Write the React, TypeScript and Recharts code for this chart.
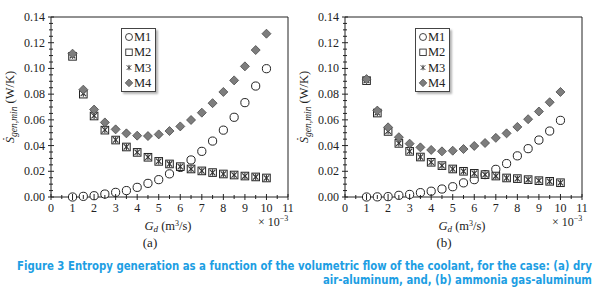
import React, { useLayoutEffect, useRef, useState } from 'react';
import { ScatterChart, Scatter, XAxis, YAxis, ReferenceLine } from 'recharts';

// volumetric flow of the coolant, x 10^-3 m3/s
const flowRates = [1, 1.5, 2, 2.5, 3, 3.5, 4, 4.5, 5, 5.5, 6, 6.5, 7, 7.5, 8, 8.5, 9, 9.5, 10];

// (a) dry air-aluminum
const airM1 = [0.0, 0.0005, 0.001, 0.0023, 0.0036, 0.005, 0.0075, 0.0106, 0.0135, 0.018, 0.023, 0.0288, 0.0355, 0.0435, 0.052, 0.062, 0.0734, 0.0863, 0.0998];
const airM2 = [0.1094, 0.08, 0.063, 0.052, 0.0443, 0.0389, 0.0347, 0.0309, 0.0277, 0.0257, 0.0236, 0.0218, 0.0203, 0.019, 0.0179, 0.0171, 0.0163, 0.0156, 0.0148];
const airM3 = [0.11, 0.0805, 0.0632, 0.0522, 0.0444, 0.039, 0.0348, 0.031, 0.0278, 0.0257, 0.0236, 0.0218, 0.0203, 0.019, 0.0179, 0.0171, 0.0163, 0.0156, 0.0148];
const airM4 = [0.1115, 0.0835, 0.068, 0.058, 0.0526, 0.0495, 0.0477, 0.0474, 0.0487, 0.0513, 0.0549, 0.0599, 0.0656, 0.073, 0.0817, 0.0907, 0.1016, 0.1143, 0.127];

// (b) ammonia gas-aluminum
const ammoniaM1 = [0.0, 0.0001, 0.0003, 0.0013, 0.002, 0.0034, 0.0045, 0.0062, 0.008, 0.011, 0.0135, 0.0174, 0.0215, 0.026, 0.032, 0.0376, 0.0443, 0.0513, 0.0596];
const ammoniaM2 = [0.0905, 0.0653, 0.051, 0.0417, 0.0355, 0.0311, 0.027, 0.0244, 0.0218, 0.02, 0.0184, 0.0174, 0.0163, 0.0148, 0.0143, 0.0135, 0.0127, 0.0122, 0.0111];
const ammoniaM3 = [0.0908, 0.0655, 0.0512, 0.0418, 0.0356, 0.0311, 0.027, 0.0244, 0.0218, 0.02, 0.0184, 0.0174, 0.0163, 0.0148, 0.0143, 0.0135, 0.0127, 0.0122, 0.0111];
const ammoniaM4 = [0.0917, 0.0672, 0.0542, 0.0465, 0.0415, 0.0386, 0.0366, 0.0355, 0.036, 0.0373, 0.0397, 0.042, 0.046, 0.0495, 0.0545, 0.0605, 0.0665, 0.0737, 0.0817];

const seriesNames = ['M1', 'M2', 'M3', 'M4'];

const xTicks = [0, 0.5, 1, 1.5, 2, 2.5, 3, 3.5, 4, 4.5, 5, 5.5, 6, 6.5, 7, 7.5, 8, 8.5, 9, 9.5, 10, 10.5, 11];
const yTicks = [
  0, 0.005, 0.01, 0.015, 0.02, 0.025, 0.03, 0.035, 0.04, 0.045, 0.05, 0.055, 0.06, 0.065, 0.07,
  0.075, 0.08, 0.085, 0.09, 0.095, 0.1, 0.105, 0.11, 0.115, 0.12, 0.125, 0.13, 0.135, 0.14,
];

const captionLines = [
  'Figure 3 Entropy generation as a function of the volumetric flow of the coolant, for the case: (a) dry',
  'air-aluminum, and, (b) ammonia gas-aluminum',
];

const SERIF = '"Liberation Serif", "DejaVu Serif", serif';
const INK = '#222';

const toPoints = (ys: number[]) => flowRates.map((x, i) => ({ x, y: ys[i] }));

// marker shapes
const CircleMark = ({ cx, cy }: any) => <circle cx={cx} cy={cy} r={4.1} fill="#fff" stroke={INK} strokeWidth={1} />;
const SquareMark = ({ cx, cy }: any) => (
  <rect x={cx - 3.8} y={cy - 3.8} width={7.6} height={7.6} fill="#fff" stroke={INK} strokeWidth={1} />
);
const StarMark = ({ cx, cy }: any) => (
  <g stroke="#333" strokeWidth={1.1}>
    <line x1={cx - 2.7} y1={cy - 2.7} x2={cx + 2.7} y2={cy + 2.7} />
    <line x1={cx - 2.7} y1={cy + 2.7} x2={cx + 2.7} y2={cy - 2.7} />
    <line x1={cx} y1={cy - 3.2} x2={cx} y2={cy + 3.2} />
  </g>
);
const DiamondMark = ({ cx, cy }: any) => (
  <polygon
    points={`${cx},${cy - 4.5} ${cx + 4.5},${cy} ${cx},${cy + 4.5} ${cx - 4.5},${cy}`}
    fill="#7d7d7d"
    stroke="#4a4a4a"
    strokeWidth={0.8}
  />
);

const XTick = ({ x, y, payload }: any) => {
  const major = Number.isInteger(payload.value);
  return (
    <g>
      <line x1={x} x2={x} y1={major ? y - 3 : y - 2} y2={major ? y + 3 : y + 2} stroke={INK} strokeWidth={1} />
      {major && (
        <text x={x} y={y + 15} textAnchor="middle" fontFamily={SERIF} fontSize={12} fill={INK}>
          {payload.value}
        </text>
      )}
    </g>
  );
};

const YTick = ({ x, y, payload }: any) => {
  const v = payload.value;
  const major = Math.abs(v / 0.02 - Math.round(v / 0.02)) < 1e-6;
  return (
    <g>
      <line x1={major ? x - 3 : x - 2} x2={major ? x + 3 : x + 2} y1={y} y2={y} stroke={INK} strokeWidth={1} />
      {major && (
        <text x={x - 6} y={y + 4} textAnchor="end" fontFamily={SERIF} fontSize={12} fill={INK}>
          {v.toFixed(2)}
        </text>
      )}
    </g>
  );
};

const YTitle = () => (
  <text
    x={14}
    y={107}
    transform="rotate(-90 14 107)"
    textAnchor="middle"
    fontFamily={SERIF}
    fontSize={12.5}
    fill={INK}
  >
    <tspan fontStyle="italic">{'S\u0307'}</tspan>
    <tspan fontStyle="italic" fontSize={9.5} dy={3}>gen,min</tspan>
    <tspan dy={-3}>{' (W/K)'}</tspan>
  </text>
);

const XTitle = ({ panel }: { panel: string }) => (
  <g>
    <text x={168} y={230} textAnchor="middle" fontFamily={SERIF} fontSize={12.5} fill={INK}>
      <tspan fontStyle="italic">G</tspan>
      <tspan fontStyle="italic" fontSize={9} dy={2}>d</tspan>
      <tspan dy={-2}>{' (m'}</tspan>
      <tspan fontSize={8} dy={-4}>3</tspan>
      <tspan dy={4}>/s)</tspan>
    </text>
    <text x={258} y={226} fontFamily={SERIF} fontSize={12} fill={INK}>
      <tspan>{'\u00d7 10'}</tspan>
      <tspan fontSize={8} dy={-5}>{'\u22123'}</tspan>
    </text>
    <text x={150} y={247} textAnchor="middle" fontFamily={SERIF} fontSize={13} fill={INK}>
      {panel}
    </text>
  </g>
);

const legendMarks = [CircleMark, SquareMark, StarMark, DiamondMark];

const LegendBox = () => (
  <div
    style={{
      position: 'absolute',
      left: 121,
      top: 28,
      width: 33,
      height: 62,
      background: '#fff',
      border: '1px solid #444',
      boxShadow: '2px 2px 2px #b5b5b5',
    }}
  >
    <svg width={33} height={62}>
      {seriesNames.map((name, i) => {
        const Mark = legendMarks[i];
        const cy = 8 + i * 15.3;
        return (
          <g key={name}>
            <g transform={`translate(7 ${cy}) scale(0.85) translate(-7 ${-cy})`}>
              <Mark cx={7} cy={cy} />
            </g>
            <text x={12} y={cy + 4} fontFamily={SERIF} fontSize={12.5} fill={INK}>
              {name}
            </text>
          </g>
        );
      })}
    </svg>
  </div>
);

// squeezes a caption line to a given width so it reads like the condensed original
function FitText({ x, y, width, text }: { x: number; y: number; width: number; text: string }) {
  const ref = useRef<SVGTextElement>(null);
  const [sx, setSx] = useState(0.85);
  useLayoutEffect(() => {
    if (ref.current) {
      const len = ref.current.getComputedTextLength();
      if (len > 0) setSx(width / len);
    }
  }, [width, text]);
  return (
    <text ref={ref} transform={`translate(${x} ${y}) scale(${sx} 1)`}>
      {text}
    </text>
  );
}

interface PanelProps {
  left: number;
  panel: string;
  m1: number[];
  m2: number[];
  m3: number[];
  m4: number[];
}

function Panel({ left, panel, m1, m2, m3, m4 }: PanelProps) {
  return (
    <div style={{ position: 'absolute', left, top: 0, width: 300, height: 250 }}>
      <ScatterChart width={300} height={250} margin={{ top: 17, right: 12, bottom: 0, left: 0 }}>
        <XAxis
          type="number"
          dataKey="x"
          domain={[0, 11]}
          ticks={xTicks}
          interval={0}
          height={53}
          tickSize={0}
          tickMargin={0}
          tickLine={false}
          tick={<XTick />}
          stroke={INK}
          label={{ content: () => <XTitle panel={panel} /> }}
        />
        <YAxis
          type="number"
          dataKey="y"
          domain={[0, 0.14]}
          ticks={yTicks}
          interval={0}
          width={51}
          tickSize={0}
          tickMargin={0}
          tickLine={false}
          tick={<YTick />}
          stroke={INK}
          label={{ content: () => <YTitle /> }}
        />
        <ReferenceLine y={0.14} stroke={INK} strokeWidth={1} ifOverflow="extendDomain" />
        <ReferenceLine x={11} stroke={INK} strokeWidth={1} ifOverflow="extendDomain" />
        <Scatter name="M1" data={toPoints(m1)} shape={<CircleMark />} isAnimationActive={false} />
        <Scatter name="M2" data={toPoints(m2)} shape={<SquareMark />} isAnimationActive={false} />
        <Scatter name="M3" data={toPoints(m3)} shape={<StarMark />} isAnimationActive={false} />
        <Scatter name="M4" data={toPoints(m4)} shape={<DiamondMark />} isAnimationActive={false} />
      </ScatterChart>
      <LegendBox />
    </div>
  );
}

export default function App() {
  return (
    <div style={{ position: 'absolute', left: 0, top: 0, width: 597, height: 291, background: '#fff', overflow: 'hidden' }}>
      <Panel left={0} panel="(a)" m1={airM1} m2={airM2} m3={airM3} m4={airM4} />
      <Panel left={294} panel="(b)" m1={ammoniaM1} m2={ammoniaM2} m3={ammoniaM3} m4={ammoniaM4} />
      <svg width={597} height={291} style={{ position: 'absolute', left: 0, top: 0, pointerEvents: 'none' }}>
        <g fontFamily='"DejaVu Sans Condensed", "DejaVu Sans", sans-serif' fontWeight="bold" fontSize={12.5} fill="#1d9ee3">
          <FitText x={17} y={270} width={575} text={captionLines[0]} />
          <FitText x={323} y={284} width={269} text={captionLines[1]} />
        </g>
      </svg>
    </div>
  );
}
